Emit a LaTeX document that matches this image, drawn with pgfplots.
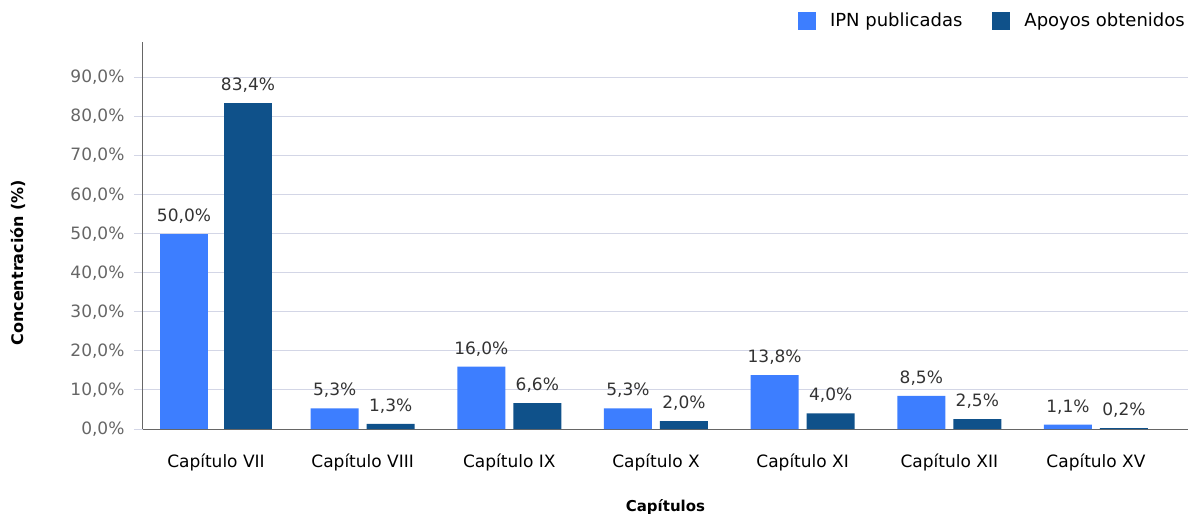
\documentclass[border=0pt]{standalone}
\usepackage{pgfplots}
\pgfplotsset{compat=1.18}
\usepackage{fontspec}
\setmainfont{DejaVu Sans}
\definecolor{cA}{HTML}{3D7EFF}
\definecolor{cB}{HTML}{0F518A}
\definecolor{grid}{HTML}{D3D6E6}
\definecolor{axisc}{HTML}{666666}
\definecolor{tickc}{HTML}{666666}
\definecolor{valc}{HTML}{333333}
\begin{document}
\begin{tikzpicture}
\useasboundingbox (-143pt,-85pt) rectangle (1049pt,429pt);
\begin{axis}[
  scale only axis,
  width=1045pt, height=387pt,
  xmin=-0.4976, xmax=6.627,
  ymin=0, ymax=99.1,
  ytick={0,10,...,90},
  xtick={0,...,6},
  xticklabels={Capítulo VII,Capítulo VIII,Capítulo IX,Capítulo X,Capítulo XI,Capítulo XII,Capítulo XV},
  axis lines=left,
  axis line style={draw=axisc, line width=1pt, -},
  ymajorgrids,
  grid style={draw=grid, line width=1pt},
  major y tick style={draw=grid, line width=1pt},
  x tick style={draw=none},
  tick align=outside,
  major tick length=9pt,
  /pgf/number format/assume math mode=true,
  yticklabel={\pgfmathprintnumber[fixed,fixed zerofill,precision=1,use comma]{\tick}\%},
  yticklabel style={font=\fontsize{17}{20}\selectfont, text=tickc, xshift=-6pt},
  xticklabel style={font=\fontsize{17}{20}\selectfont, text=black, yshift=-12pt},
  ylabel={Concentración (\%)},
  ylabel style={font=\fontsize{16}{19}\selectfont\bfseries, at={(axis description cs:-0.1196,0.43)}, anchor=center},
  xlabel={Capítulos},
  xlabel style={font=\fontsize{15}{18}\selectfont\bfseries, yshift=-22pt},
  ybar=8pt,
  bar width=48pt,
  nodes near coords={\pgfmathprintnumber[fixed,fixed zerofill,precision=1,use comma,assume math mode=true]{\pgfplotspointmeta}\%},
  every node near coord/.append style={font=\fontsize{17}{20}\selectfont, text=valc, anchor=south, yshift=7pt},
  legend style={at={(1,1)}, anchor=south east, yshift=10pt, draw=none, fill=none,
    font=\fontsize{18}{21}\selectfont, legend columns=2,
    nodes={inner sep=0pt},
    /tikz/every odd column/.append style={column sep=14pt},
    /tikz/every even column/.append style={column sep=30pt}},
  legend image code/.code={\fill[#1] (0pt,-9pt) rectangle (18pt,9pt);},
  legend cell align=left,
]
\addplot[fill=cA, draw=none] coordinates {(1,5.3) (2,16.0) (3,5.3) (4,13.8) (5,8.5) (6,1.1)};
\addplot[fill=cB, draw=none] coordinates {(1,1.3) (2,6.6) (3,2.0) (4,4.0) (5,2.5) (6,0.2)};
\legend{IPN publicadas, Apoyos obtenidos}
\addplot[fill=cA, draw=none, bar shift=-32pt, forget plot] coordinates {(0,50.0)};
\addplot[fill=cB, draw=none, bar shift=32pt, forget plot] coordinates {(0,83.4)};
\end{axis}
\end{tikzpicture}
\end{document}
